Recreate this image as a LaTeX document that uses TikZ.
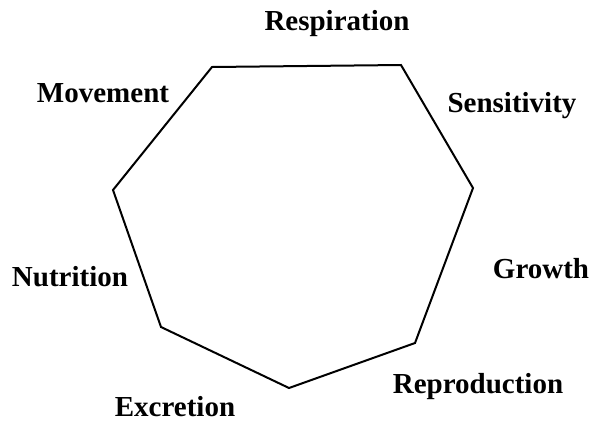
\documentclass[tikz,border=0pt]{standalone}
\usepackage{fontspec}
\setmainfont{Liberation Serif}
\begin{document}
\begin{tikzpicture}[x=1pt,y=-1pt,
  lbl/.style={anchor=base,inner sep=0pt,text depth=0pt,font=\fontsize{29}{34}\selectfont\bfseries},
  edge/.style={line width=2pt,line join=miter,black}]
\useasboundingbox (0,0) rectangle (593,421);
\coordinate (v1) at (212,67);
\coordinate (v2) at (401,65);
\coordinate (v3) at (473,188);
\coordinate (v4) at (415,343);
\coordinate (v5) at (289,388);
\coordinate (v6) at (161,327);
\coordinate (v7) at (113,190);
\draw[edge] (v1) -- (v2) -- (v3) -- (v4) -- (v5) -- (v6) -- (v7) -- cycle;
\node[lbl] (resp) at (337,30) {Respiration};
\node[lbl] (mov) at (103,102) {Movement};
\node[lbl] (sens) at (512,112) {Sensitivity};
\node[lbl] (nut) at (70,286) {Nutrition};
\node[lbl] (grow) at (541,278) {Growth};
\node[lbl] (repr) at (478,393) {Reproduction};
\node[lbl] (excr) at (175,416) {Excretion};
\end{tikzpicture}
\end{document}
